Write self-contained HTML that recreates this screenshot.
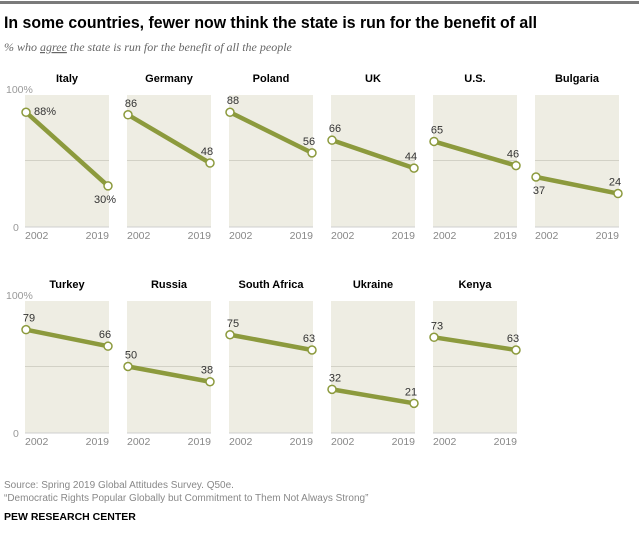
<!DOCTYPE html>
<html><head><meta charset="utf-8">
<style>
body{margin:0;background:#fff;width:639px;height:540px;overflow:hidden;font-family:"Liberation Sans",Arial,sans-serif}
</style></head>
<body>
<svg id="chart" width="639" height="540" xmlns="http://www.w3.org/2000/svg" font-family="Liberation Sans, Arial, sans-serif">
<rect x="0" y="1" width="639" height="3" fill="#7a7a7a"/>
<text x="4" y="28" font-size="17" font-weight="bold" fill="#000" textLength="533" lengthAdjust="spacingAndGlyphs">In some countries, fewer now think the state is run for the benefit of all</text>
<text x="4" y="51" font-size="12" font-style="italic" fill="#666" font-family="Liberation Serif, serif">% who <tspan text-decoration="underline">agree</tspan> the state is run for the benefit of all the people</text>
<g id="panels"></g>
<text x="4" y="488" font-size="10" fill="#888">Source: Spring 2019 Global Attitudes Survey. Q50e.</text>
<text x="4" y="501" font-size="10" fill="#888">“Democratic Rights Popular Globally but Commitment to Them Not Always Strong”</text>
<text x="4" y="520" font-size="10.5" font-weight="bold" fill="#000">PEW RESEARCH CENTER</text>
</svg>
<script>
const countries=["Italy","Germany","Poland","UK","U.S.","Bulgaria","Turkey","Russia","South Africa","Ukraine","Kenya"];
const values2002=[88,86,88,66,65,37,79,50,75,32,73];
const values2019=[30,48,56,44,46,24,66,38,63,21,63];
const years=["2002","2019"];
const yTicks=["100%","0"];
const ns="http://www.w3.org/2000/svg";
const g=document.getElementById("panels");
function mk(tag,attrs,parent){const e=document.createElementNS(ns,tag);for(const k in attrs)e.setAttribute(k,attrs[k]);(parent||g).appendChild(e);return e;}
const PW=84,PTOP=95,PBOT=227;
function px(i){return 25+(i%6)*102;}
function rowOff(i){return i<6?0:206;}
function yScale(v,off){return off+224-v*1.27;}
countries.forEach((c,i)=>{
  const x0=px(i),off=rowOff(i);
  const bg=mk("rect",{x:x0,y:PTOP+off,width:PW,height:PBOT-PTOP,fill:"#eeede3"});
  
  
  const mid=mk("line",{x1:x0,x2:x0+PW,y1:yScale(50,off),y2:yScale(50,off),stroke:"#d2d1c6","stroke-width":1});
  
  
  const base=mk("line",{x1:x0,x2:x0+PW,y1:PBOT+off,y2:PBOT+off,stroke:"#cfcfcf","stroke-width":1});
  
  
  const t=mk("text",{x:x0+PW/2,y:82+off,"text-anchor":"middle","font-size":11,"font-weight":"bold",fill:"#000"});
  t.textContent=c;
  
  
  years.forEach((yr,j)=>{
    const yl=mk("text",{x:j?x0+PW:x0,y:PBOT+12+off,"text-anchor":j?"end":"start","font-size":10.5,fill:"#888"});
    yl.textContent=yr;
    
    
  });
  const xa=x0+1,xb=x0+PW-1,ya=yScale(values2002[i],off),yb=yScale(values2019[i],off);
  const ln=mk("line",{x1:xa,y1:ya,x2:xb,y2:yb,stroke:"#8c9a3d","stroke-width":4.5});
  
  
  [[xa,ya,values2002[i],0],[xb,yb,values2019[i],1]].forEach(([cx,cy,v,j])=>{
    const m=mk("circle",{cx:cx,cy:cy,r:4,fill:"#fff",stroke:"#8c9a3d","stroke-width":1.5});
    
    
    const below=(i===5&&j===0)||(i===0&&j===1);
    const right=(i===0&&j===0);
    let lx=cx,ly=below?cy+17:cy-8,anchor="middle";
    if(right){lx=cx+8;ly=cy+3;anchor="start";}
    else if(j===1){lx=cx-3;}
    else {lx=cx+3;}
    const lab=mk("text",{x:lx,y:ly,"text-anchor":anchor,"font-size":11,fill:"#333"});
    lab.textContent=v+(i===0?"%":"");
    
    
  });
});
[0,206].forEach(off=>{
  const a=mk("text",{x:6,y:93+off,"font-size":10.5,fill:"#999"});a.textContent=yTicks[0];
  
  
  const b=mk("text",{x:13,y:231+off,"font-size":10.5,fill:"#999"});b.textContent=yTicks[1];
  
  
});
</script>
</body></html>
